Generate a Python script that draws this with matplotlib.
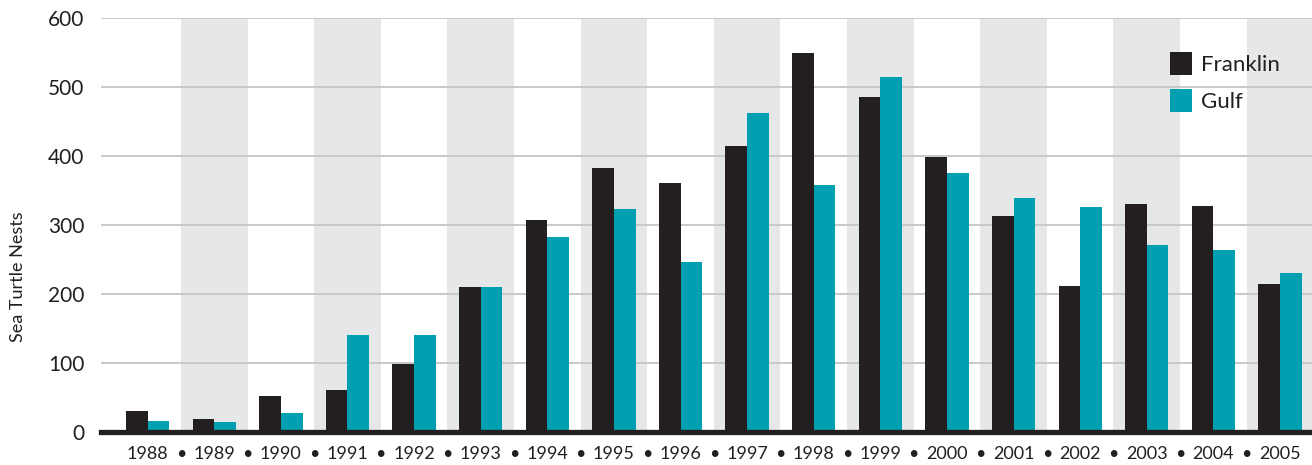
import numpy as np
import matplotlib
matplotlib.use("Agg")
import matplotlib.pyplot as plt

years = [str(y) for y in range(1988, 2006)]
franklin = [30, 19, 52, 61, 99, 210, 307, 383, 361, 414, 549, 486, 399, 313, 212, 330, 328, 214]
gulf = [16, 15, 28, 141, 141, 210, 283, 323, 246, 462, 358, 514, 375, 339, 326, 271, 264, 230]
yticks = [0, 100, 200, 300, 400, 500, 600]

ink = "#231f20"
teal = "#00a0b0"
band = "#e6e7e8"
grid = "#c8c9cb"

plt.rcParams["font.family"] = ["Lato", "DejaVu Sans"]

fig = plt.figure(figsize=(13.12, 4.65), dpi=100)
ax = fig.add_axes([101 / 1312, 33 / 465, 1 - 101 / 1312, 414 / 465])

x = np.arange(len(years))
w = 0.325

# shaded bands behind odd years
for i in x[1::2]:
    ax.axvspan(i - 0.5, i + 0.5, color=band, lw=0, zorder=0)

for v in yticks[1:]:
    ax.axhline(v, color=grid, lw=1.4, zorder=1)

ax.bar(x - w / 2, franklin, w, color=ink, label="Franklin", zorder=2)
ax.bar(x + w / 2, gulf, w, color=teal, label="Gulf", zorder=2)
ax.axhline(0, color=ink, lw=3.8, zorder=3, clip_on=False)

ax.set_xlim(-0.70, 17.48)
ax.set_ylim(0, 600)

ax.set_yticks(yticks)
ax.set_yticklabels([str(v) for v in yticks], fontsize=15, color=ink)
ax.set_xticks(x)
ax.set_xticklabels(years, fontsize=13, color=ink)
ax.set_xticks(x[:-1] + 0.5, minor=True)
ax.set_xticklabels(["•"] * (len(years) - 1), minor=True, fontsize=13, color=ink)
ax.tick_params(axis="y", length=0, pad=12)
ax.tick_params(axis="x", which="both", length=0, pad=10)
for s in ax.spines.values():
    s.set_visible(False)

fig.text(18 / 1312, 1 - 277 / 465, "Sea Turtle Nests", rotation=90, fontsize=13,
         color=ink, ha="center", va="center")

ax.legend(loc="upper left", bbox_to_anchor=(1170 / 1312, 1 - 52 / 465),
          bbox_transform=fig.transFigure, frameon=False, fontsize=16,
          handlelength=1.0, handleheight=1.25, handletextpad=0.4,
          labelspacing=0.6, borderpad=0, borderaxespad=0, labelcolor=ink)

fig.savefig("out.png", dpi=100)
